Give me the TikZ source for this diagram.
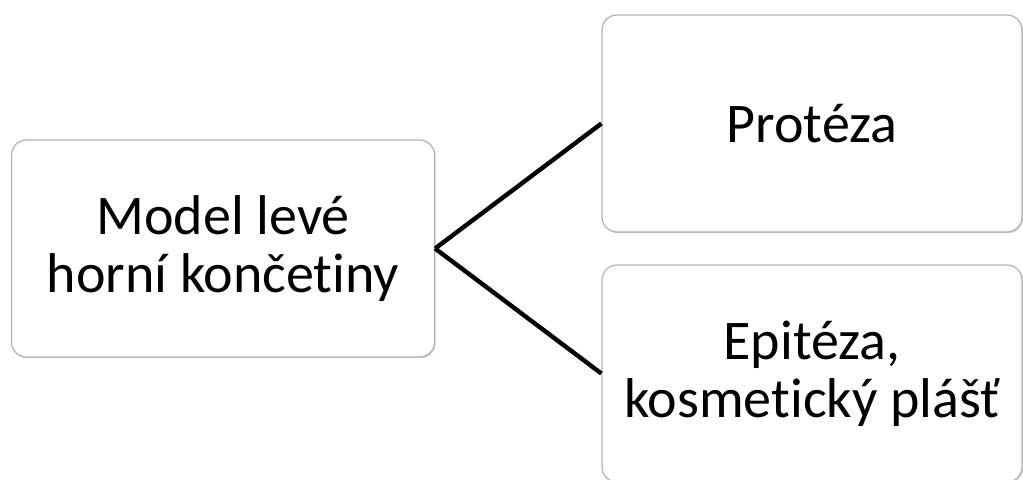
\documentclass[tikz,border=0pt]{standalone}
\usepackage{fontspec}
\setmainfont[Ligatures=NoCommon]{Carlito}
\usetikzlibrary{positioning,shadows}
\begin{document}
\begin{tikzpicture}[x=0.5pt,y=-0.5pt,
		box/.style={draw=gray!60, line width=0.6pt, fill=white, rounded corners=7.5pt,
			drop shadow={opacity=0.35, shadow xshift=0.6pt, shadow yshift=-0.6pt},
			minimum width=210pt, minimum height=108.5pt, align=center,
			font=\fontsize{28}{29}\selectfont},
		link/.style={line width=2.2pt, black}]
			\useasboundingbox (0,0) rectangle (1023,479);
			\node[box, minimum width=211.5pt] (model) at (223,248.5) {Model levé\\horní končetiny};
			\node[box] (proteza) at (812,123.5) {Protéza};
			\node[box] (epiteza) at (812,373.5) {Epitéza,\\kosmetický plášť};
			\foreach \t in {proteza,epiteza}
			{
				\draw[link] (model.east) -- (\t.west);
			}
	\end{tikzpicture}
\end{document}
